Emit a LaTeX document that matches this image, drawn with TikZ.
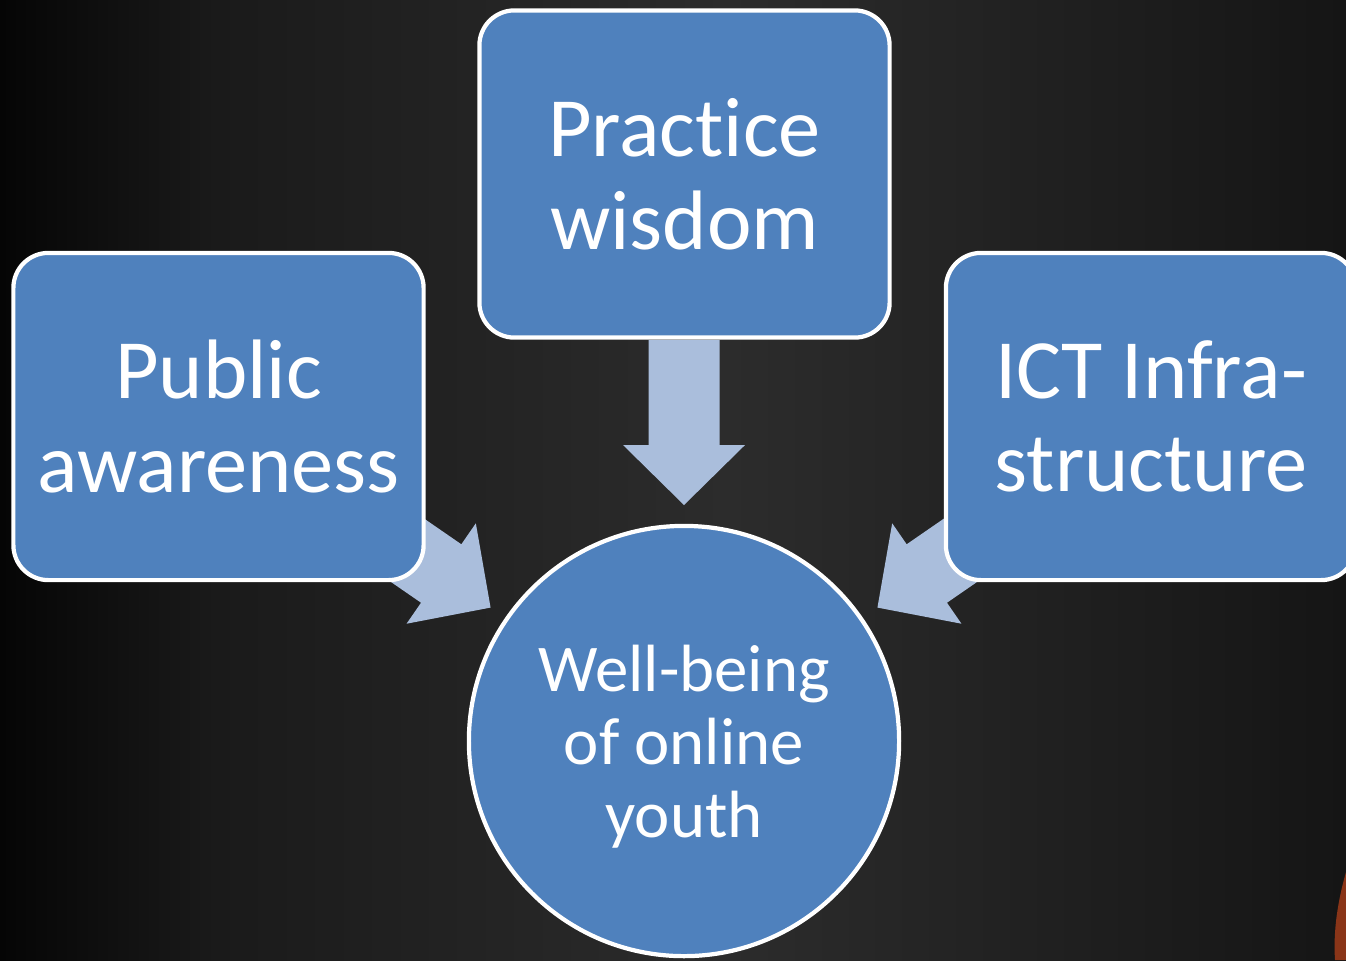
\documentclass[tikz,border=0pt]{standalone}
\usepackage{fontspec}
\setmainfont{Carlito}[Ligatures=NoCommon]
\usetikzlibrary{calc}
\definecolor{boxblue}{HTML}{4F81BD}
\definecolor{arrowblue}{HTML}{AABEDC}
\definecolor{bgA}{HTML}{050505}
\definecolor{bgB}{HTML}{1A1A1A}
\definecolor{bgC}{HTML}{2C2C2C}
\definecolor{bgD}{HTML}{151515}
\definecolor{blob}{HTML}{8A3518}
\pgfdeclarehorizontalshading{bgshade}{100bp}{color(0bp)=(bgA); color(25bp)=(bgA); color(33bp)=(bgB); color(52bp)=(bgC); color(75bp)=(bgD); color(100bp)=(bgD)}
\begin{document}
\begin{tikzpicture}[x=0.01cm,y=-0.01cm,
  box/.style={draw=white, line width=1.2pt, fill=boxblue, rounded corners=0.35cm,
    minimum width=4.1cm, minimum height=3.27cm, text=white, align=center,
    font=\fontsize{24}{26.5}\selectfont, inner sep=0pt},
  hub/.style={circle, draw=white, line width=1.2pt, fill=boxblue, minimum size=4.3cm,
    text=white, align=center, font=\fontsize{19}{20.8}\selectfont, inner sep=0pt},
  blockarrow/.style={fill=arrowblue},
  blobfill/.style={fill=blob}]
\useasboundingbox (0,0) rectangle (1346,960);
\shade[shading=bgshade] (0,0) rectangle (1346,960);
\fill[blobfill] (1346,872) .. controls (1338,900) and (1333,930) .. (1335,960) -- (1346,960) -- cycle;

\node[hub] (hub) at (684,741) {\raisebox{-0.24cm}[0pt][0pt]{\begin{tabular}{@{}c@{}}Well-being\\of online\\youth\end{tabular}}};

\begin{scope}[shift={($(hub.center)+(270:236)$)}, rotate=-90]
  \fill[blockarrow] (0,0) -- (-60,61) -- (-60,35.5) -- (-165,35.5) -- (-165,-35.5) -- (-60,-35.5) -- (-60,-61) -- cycle;
\end{scope}
\begin{scope}[shift={($(hub.center)+(214.6:235)$)}, rotate=-34.6]
  \fill[blockarrow] (0,0) -- (-60,61) -- (-60,35.5) -- (-165,35.5) -- (-165,-35.5) -- (-60,-35.5) -- (-60,-61) -- cycle;
\end{scope}
\begin{scope}[shift={($(hub.center)+(325.4:235)$)}, rotate=-145.4]
  \fill[blockarrow] (0,0) -- (-60,61) -- (-60,35.5) -- (-165,35.5) -- (-165,-35.5) -- (-60,-35.5) -- (-60,-61) -- cycle;
\end{scope}

\node[box] (practice) at (684.5,174) {Practice\\wisdom};
\node[box] (public) at (218.5,416.5) {Public\\awareness};
\node[box] (ict) at (1151,416.5) {ICT Infra-\\structure};
\end{tikzpicture}
\end{document}
